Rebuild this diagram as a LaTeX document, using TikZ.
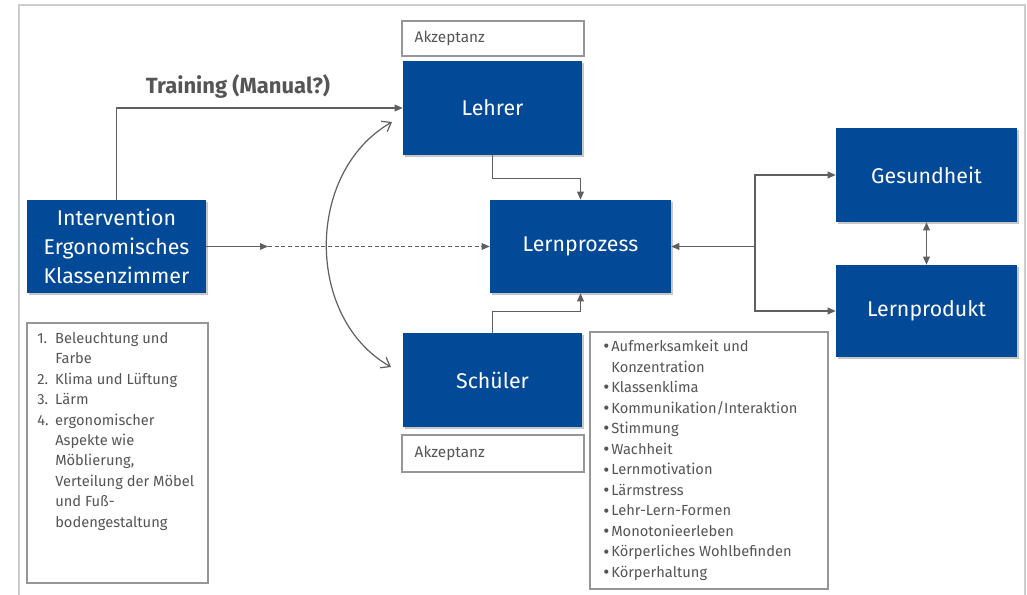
\documentclass[tikz,border=0pt]{standalone}
\usepackage{fontspec}
\setmainfont{Fira Sans}
\usetikzlibrary{arrows.meta,shadows,calc}
\definecolor{ublue}{RGB}{2,73,151}
\definecolor{agray}{RGB}{95,95,95}
\definecolor{bgray}{RGB}{150,150,150}
\definecolor{tgray}{RGB}{85,85,85}
\definecolor{fgray}{RGB}{205,205,205}
\newcommand{\bul}{\raisebox{-0.9pt}{\fontsize{14}{14}\selectfont\textbullet}}
\begin{document}
\begin{tikzpicture}[x=0.75pt,y=-0.75pt,
  bx/.style n args={2}{minimum width={#1*0.75pt}, minimum height={#2*0.75pt}, inner sep=0pt},
  bluebox/.style={rectangle, fill=ublue, text=white, align=center,
     font=\fontsize{16}{21.75}\selectfont,
     drop shadow={shadow xshift=1.5pt, shadow yshift=-1.5pt, fill=black, opacity=0.22}},
  wbox/.style={rectangle, draw=bgray, line width=0.8pt, fill=white},
  conn/.style={draw=agray, line width=0.9pt, -{Triangle[length=6pt,width=5pt]}},
  curv/.style={draw=agray, line width=0.9pt, {Straight Barb[length=6pt,width=9pt]}-{Straight Barb[length=6pt,width=9pt]}},
  listtext/.style={text=tgray, inner sep=0pt, anchor=north west, align=left}
]
\useasboundingbox (0,0) rectangle (1027,595);
\fill[white] (0,0) rectangle (1027,595);
% frame
\draw[fgray, line width=1.4pt] (19,600) -- (19,5) -- (1025,5) -- (1025,600);

% white boxes
\node[wbox, bx={182}{35}] (akz1) at (493,38.5) {};
\node[anchor=west, text=tgray, font=\fontsize{11.5}{14}\selectfont] (akz1t) at (410,38.5) {Akzeptanz};
\node[wbox, bx={182}{37}] (akz2) at (493,453.5) {};
\node[anchor=west, text=tgray, font=\fontsize{11.5}{14}\selectfont] (akz2t) at (410,453.5) {Akzeptanz};
\node[wbox, bx={181}{260}] (leftlist) at (117.5,453) {};
\node[wbox, bx={238}{257}] (rightlist) at (709,460.5) {};

% blue boxes
\node[bluebox, bx={179}{93}] (interv) at (116.5,246.5) {Intervention\\Ergonomisches\\Klassenzimmer};
\node[bluebox, bx={179}{94}] (lehrer) at (492.5,108) {Lehrer};
\node[bluebox, bx={181}{93}] (lernp) at (580.5,246.5) {Lernprozess};
\node[bluebox, bx={179}{94}] (schueler) at (492.5,380) {Schüler};
\node[bluebox, bx={181}{94}] (gesund) at (926.5,175) {Gesundheit};
\node[bluebox, bx={181}{92}] (lprod) at (926.5,311) {Lernprodukt};

% list texts
\node[listtext, font=\fontsize{11}{15.3}\selectfont] (lt) at (37,329) {%
\begin{tabular}{@{}l@{\hspace{5pt}}l@{}}
1. & Beleuchtung und\\
   & Farbe\\
2. & Klima und Lüftung\\
3. & Lärm\\
4. & ergonomischer\\
   & Aspekte wie\\
   & Möblierung,\\
   & Verteilung der Möbel\\
   & und Fuß-\\
   & bodengestaltung
\end{tabular}};
\node[listtext, font=\fontsize{11}{15.4}\selectfont] (rt) at (603,337) {%
\begin{tabular}{@{}l@{\hspace{1.5pt}}l@{}}
\bul & Aufmerksamkeit und\\
     & Konzentration\\
\bul & Klassenklima\\
\bul & Kommunikation/Interaktion\\
\bul & Stimmung\\
\bul & Wachheit\\
\bul & Lernmotivation\\
\bul & Lärmstress\\
\bul & Lehr-Lern-Formen\\
\bul & Monotonieerleben\\
\bul & Körperliches Wohlbefinden\\
\bul & Körperhaltung
\end{tabular}};

% training label
\node[text=tgray, font=\bfseries\fontsize{16.5}{18}\selectfont] (train) at (238,86) {Training (Manual?)};

% connectors
\path[conn] (interv.north) |- (lehrer.west);
\coordinate (mid) at (268,246.5);
\path[conn] (interv.east) -- (mid);
\draw[agray, line width=0.7pt, dash pattern=on 3pt off 2pt, -{Triangle[length=6pt,width=5pt]}] (mid) -- (lernp.west);
\path[conn] (lehrer.south) -- ++(0,23) -| (lernp.north);
\path[conn] (schueler.north) -- ++(0,-21) -| (lernp.south);
\coordinate (j) at (755,246.5);
\path[conn] (j) -- (lernp.east);
\path[conn] (j) |- (gesund.west);
\path[conn] (j) |- (lprod.west);
\path[draw=agray, line width=0.9pt, {Triangle[length=6pt,width=5pt]}-{Triangle[length=6pt,width=5pt]}] (gesund.south) -- (lprod.north);
\coordinate (ct) at (392,122);
\coordinate (cb) at (391,367);
\path[curv] (ct) .. controls (305,172) and (305,318) .. (cb);
\end{tikzpicture}
\end{document}
